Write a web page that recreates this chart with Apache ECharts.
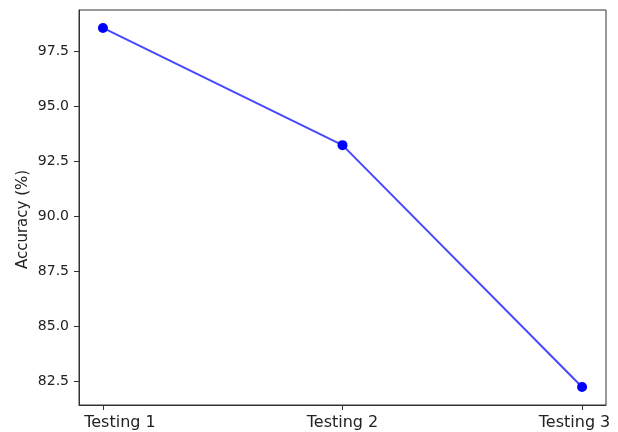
<!DOCTYPE html>
<html>
<head>
<meta charset="utf-8">
<script src="https://cdn.jsdelivr.net/npm/echarts@6/dist/echarts.min.js"></script>
<style>
  html, body { margin: 0; padding: 0; background: #fff; }
  #chart { width: 618px; height: 432px; }
</style>
</head>
<body>
<div id="chart"></div>
<script>
// Accuracy across the three testing runs
const categories = ['Testing 1', 'Testing 2', 'Testing 3'];
const accuracy = [98.55, 93.23, 82.25];
const yTicks = [82.5, 85.0, 87.5, 90.0, 92.5, 95.0, 97.5];

// 5% padding around the data on both axes
const yPad = (Math.max(...accuracy) - Math.min(...accuracy)) * 0.05;
const xPad = (categories.length - 1) * 0.05;
const xIdx = categories.map((_, i) => i);

const chart = echarts.init(document.getElementById('chart'), null, { renderer: 'canvas' });
const font = { color: '#222', fontFamily: 'DejaVu Sans' };

// first and last category labels are nudged inwards so they stay near the frame
const labelRich = {
  first: Object.assign({ fontSize: 16, padding: [0, 0, 0, 34] }, font),
  mid: Object.assign({ fontSize: 16 }, font),
  last: Object.assign({ fontSize: 16, padding: [0, 15, 0, 0] }, font)
};

chart.setOption({
  animation: false,
  backgroundColor: '#ffffff',
  grid: {
    left: 79, right: 12, top: 10, bottom: 27,
    show: true, borderColor: '#333', borderWidth: 1, backgroundColor: '#fff'
  },
  xAxis: {
    type: 'value',
    min: -xPad,
    max: categories.length - 1 + xPad,
    axisLine: { show: true, onZero: false, lineStyle: { color: '#333', width: 1 } },
    axisTick: { show: true, customValues: xIdx, length: 5, inside: false, lineStyle: { color: '#333' } },
    axisLabel: Object.assign({
      customValues: xIdx,
      margin: 10,
      fontSize: 16,
      rich: labelRich,
      formatter: v => {
        const i = Math.round(v);
        const key = i === 0 ? 'first' : (i === categories.length - 1 ? 'last' : 'mid');
        return '{' + key + '|' + categories[i] + '}';
      }
    }, font),
    splitLine: { show: false }
  },
  yAxis: {
    type: 'value',
    min: Math.min(...accuracy) - yPad,
    max: Math.max(...accuracy) + yPad,
    name: 'Accuracy (%)',
    nameLocation: 'middle',
    nameRotate: 90,
    nameGap: 48,
    nameMoveOverlap: false,
    nameTextStyle: Object.assign({ fontSize: 15, padding: [0, 24, 0, 0] }, font),
    axisLine: { show: true, onZero: false, lineStyle: { color: '#333', width: 1 } },
    axisTick: { show: true, customValues: yTicks, length: 5, inside: false, lineStyle: { color: '#333' } },
    axisLabel: Object.assign({
      customValues: yTicks,
      margin: 10,
      fontSize: 14,
      formatter: v => v.toFixed(1)
    }, font),
    splitLine: { show: false }
  },
  series: [{
    type: 'line',
    data: accuracy.map((v, i) => [i, v]),
    symbol: 'circle',
    symbolSize: 10,
    itemStyle: { color: '#0000ff' },
    lineStyle: { color: 'rgba(0,0,255,0.72)', width: 2 }
  }]
});
</script>
</body>
</html>
